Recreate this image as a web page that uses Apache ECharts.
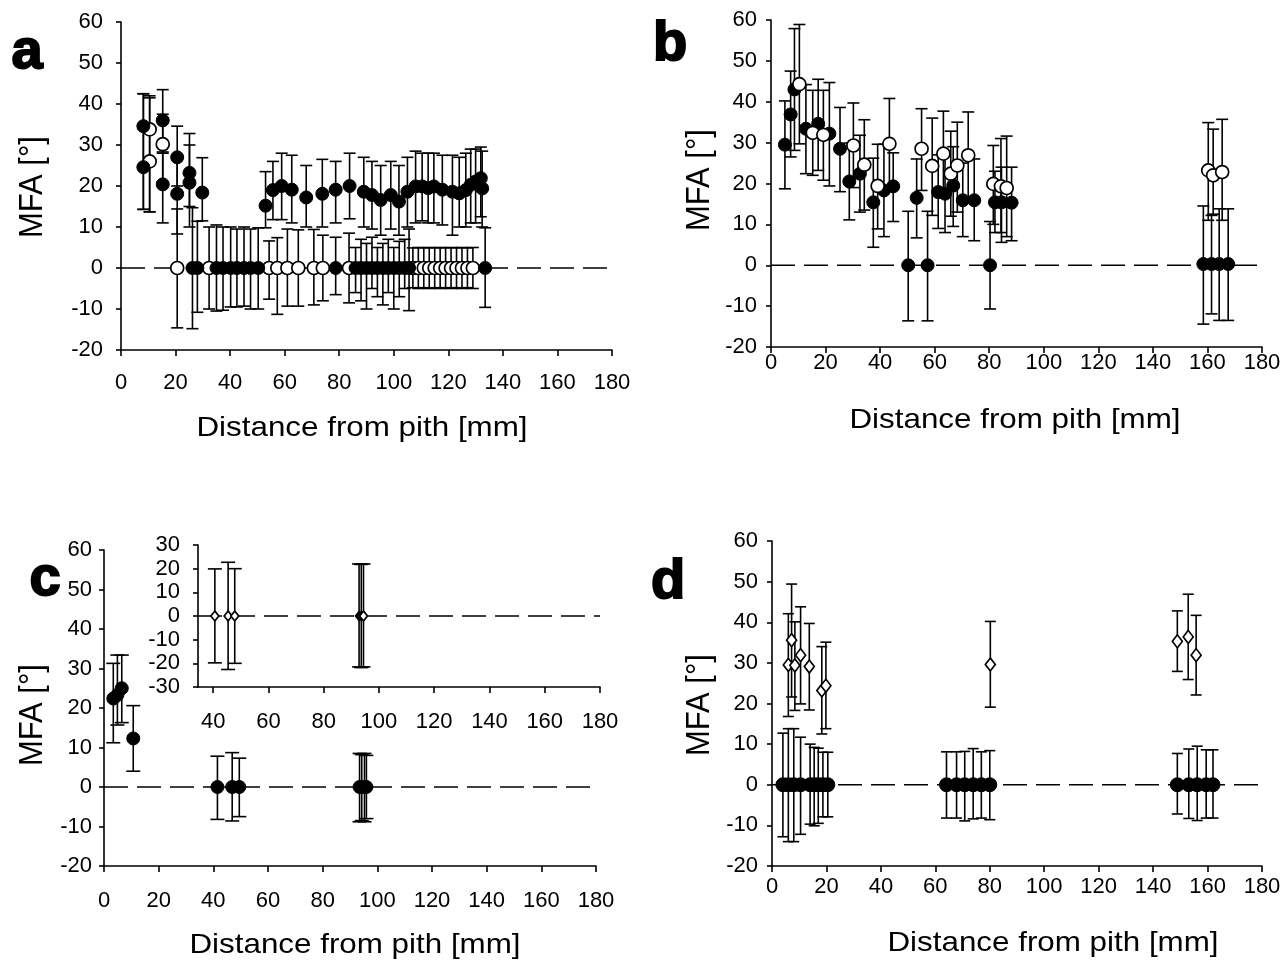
<!DOCTYPE html>
<html><head><meta charset="utf-8">
<script src="https://cdn.jsdelivr.net/npm/echarts@6/dist/echarts.min.js"></script>
<style>html,body{margin:0;padding:0;background:#fff}#c{width:1286px;height:965px}</style>
</head><body><div id="c"></div><script>
// ---------- Panel a ----------
const aFillX = [8.2, 8.2, 15.3, 15.3, 20.6, 20.6, 25.1, 25.1, 29.8, 53, 55.7, 58.9, 62.6, 67.9, 73.8, 78.7, 83.8, 89, 92, 95.2, 98.9, 101.9, 105, 108, 110.4, 112.6, 114.7, 117.8, 121.5, 124, 126.4, 128.2, 130, 131.9, 132.4,
  26.2, 28, 35, 37.4, 40.2, 42.5, 45.1, 47.5, 50.3, 78.7, 86, 88, 90, 92, 94, 96, 98, 100, 102, 104, 105.6, 133.5];
const aFillY = [34.6, 24.6, 36, 20.4, 27, 18.1, 23.2, 20.8, 18.4, 15.2, 19, 20, 19.1, 17.2, 18.1, 19.1, 20, 18.6, 17.8, 16.6, 17.8, 16.2, 18.6, 19.9, 19.9, 19.5, 19.9, 19.1, 18.6, 18.2, 19, 20.3, 21.1, 21.9, 19.4,
  0, 0, 0, 0, 0, 0, 0, 0, 0, 0, 0, 0, 0, 0, 0, 0, 0, 0, 0, 0, 0, 0];
const aFillLo = [14.3, 14.3, 28.3, 11, 20, 8.3, 15, 10, 11.5, 9.8, 11.8, 11.8, 11, 10, 10, 11, 12, 10, 9.5, 8, 9.5, 8, 10, 11, 11.5, 11, 11, 10.5, 8, 10, 10, 11, 11, 12.5, 10,
  -14.8, -10.8, -10.5, -10.3, -9.5, -9.5, -9.3, -10, -10, -6.5, -6, -8, -10, -5, -7, -9, -6, -10, -7, -5, -10.4, -9.6];
const aFillHi = [42.5, 42.5, 43.5, 28, 34.6, 27, 32.8, 30, 26.9, 23.5, 26, 28, 27.5, 25, 26.5, 26, 28, 27, 26, 25, 26, 25, 27, 28.5, 28, 28, 28, 27.5, 27.5, 27, 28, 29, 29, 29.5, 28.5,
  14.7, 11.4, 10.5, 10, 10, 9.5, 10, 9.5, 9.8, 7.5, 5, 7, 6, 7.5, 5, 6, 7, 5, 6.5, 7, 9.5, 9.8];
const aOpenX = [10.5, 10.5, 15.3, 20.6, 32.3, 54.3, 57.3, 61, 65, 70.7, 74, 83.6, 107, 109, 111, 113, 115, 117, 119, 121, 123, 125, 127, 129];
const aOpenY = [33.8, 26, 30.2, 0, 0, 0, 0, 0, 0, 0, 0, 0, 0, 0, 0, 0, 0, 0, 0, 0, 0, 0, 0, 0];
const aOpenLo = [13.7, 13.7, 21, -14.6, -10, -7.6, -11.3, -9.3, -9.3, -9, -8, -8.5, -4.8, -5, -4.8, -5, -4.8, -5, -4.8, -5, -4.8, -5, -4.8, -5];
const aOpenHi = [42, 41.5, 37.5, 14.4, 10, 6.6, 7.4, 9.5, 9.3, 9.4, 8, 8.5, 4.9, 5, 4.9, 5, 4.9, 5, 4.9, 5, 4.9, 5, 4.9, 5];

// ---------- Panel b ----------
const bFillX = [5.1, 7.2, 8.6, 12.8, 17.3, 21.4, 25.3, 28.7, 32.6, 37.5, 41.4, 44.8, 50.3, 53.4, 57.4, 61.3, 63.8, 66.8, 70.3, 74.5, 80.3, 82.1, 84.5, 88.2, 158.5, 161.5, 164.3, 167.6];
const bFillY = [29.5, 36.9, 43, 33.4, 34.6, 32.2, 28.5, 20.5, 22.4, 15.4, 18.3, 19.3, 0, 16.5, 0, 17.9, 17.5, 19.5, 15.9, 15.9, 0, 15.4, 15.4, 15.3, 0.3, 0.3, 0.3, 0.3];
const bFillLo = [18.7, 26.5, 28.1, 22.4, 23.2, 19.4, 18, 11.1, 13, 4.4, 7, 10.7, -13.6, 6.7, -13.6, 9, 8, 9.5, 7, 6, -10.7, 8, 5.6, 6, -14.4, -11.9, -13.5, -13.5];
const bFillHi = [40.2, 47.5, 57.9, 44.2, 45.5, 44.7, 38.6, 29.9, 31.8, 26.2, 29.6, 27.5, 13.2, 26, 13.2, 27, 27, 29, 25, 26, 10.7, 23, 24, 24, 14.5, 12.2, 13.8, 13.8];
const bOpenX = [10.4, 15.3, 19.2, 30.2, 34.2, 39.1, 43.4, 55.2, 59.1, 63.2, 65.9, 68.3, 72.3, 81.5, 84.3, 86.4, 160.3, 162.1, 165.4];
const bOpenY = [44.3, 32.4, 31.9, 29.3, 24.6, 19.4, 29.7, 28.5, 24.3, 27.3, 22.4, 24.4, 26.9, 19.9, 19.3, 18.9, 23.2, 22, 22.8];
const bOpenLo = [29.7, 22, 20.8, 19, 13.5, 8.9, 18.5, 18.3, 12.2, 17, 12, 13, 16, 10, 8, 7, 11, 12.5, 11];
const bOpenHi = [58.9, 42.8, 42.8, 39.7, 35.6, 29.6, 40.8, 38.3, 36, 37.7, 32.8, 35, 37.5, 29.3, 31, 31.6, 34.9, 33.3, 35.7];

// ---------- Panel c ----------
const cFillX = [3.4, 4.9, 6.5, 10.7, 41.5, 46.9, 49.5, 93.5, 94.3, 95.3, 96];
const cFillY = [22.4, 23.3, 25, 12.3, 0, 0, 0, 0, 0, 0, 0];
const cFillLo = [11.2, 15.7, 16.3, 4, -8.2, -8.6, -7.5, -8.8, -8.5, -8.8, -8];
const cFillHi = [31.3, 33.4, 33.4, 20.6, 7.8, 8.7, 7.3, 8.5, 8.2, 8.5, 8];
// inset of c
const insOpenX = [40.6, 45.4, 47.8, 94.4];
const insOpenY = [0, 0, 0, 0];
const insOpenLo = [-19.8, -22.6, -20, -21.5];
const insOpenHi = [19.9, 22.7, 20, 22];
const insFillX = [92.8, 93.6];
const insFillY = [0, 0];
const insFillLo = [-21.5, -21.8];
const insFillHi = [22, 21.8];

// ---------- Panel d ----------
const dOpenX = [6, 7.2, 8.4, 10.5, 13.7, 18.3, 19.8, 80.2, 148.9, 152.9, 155.8];
const dOpenY = [29.5, 35.6, 29.4, 31.9, 29.1, 23.2, 24.4, 29.6, 35.3, 36.4, 31.9];
const dOpenLo = [16.8, 21.6, 18.3, 19.9, 18.4, 12.5, 13.8, 19.1, 27.9, 25.9, 22.1];
const dOpenHi = [42.1, 49.4, 40.1, 43.8, 39.7, 34, 35.1, 40.2, 42.8, 46.9, 41.7];
const dFillX = [4, 6, 8, 10.5, 14, 15.5, 17, 18.7, 20.5, 64.1, 67.8, 70.8, 73.9, 76.9, 80, 148.9, 153.1, 156.2, 159.5, 162];
const dFillY = [0, 0, 0, 0, 0, 0, 0, 0, 0, 0, 0, 0, 0, 0, 0, 0, 0, 0, 0, 0];
const dFillLo = [-12.8, -14, -14, -12.2, -9.7, -10.1, -9.5, -7.9, -7.9, -8.2, -8.2, -8.9, -8.4, -8.2, -8.6, -7.2, -8.3, -8.8, -8.2, -8.2];
const dFillHi = [12.7, 13.8, 13.8, 11.7, 10, 9.2, 9, 8, 8, 8.1, 8.1, 8.2, 8.9, 8.1, 8.4, 7.7, 8.8, 9.5, 8.6, 8.6];

const insetXTicks = [40, 60, 80, 100, 120, 140, 160, 180];

// ---------- builders ----------
const FONT = '"Liberation Sans", Arial, sans-serif';
const BLACK = '#000';
const LBL = 22;

function lbl(margin) {
  return { color: BLACK, fontSize: LBL, fontFamily: FONT, margin: margin };
}
function xAx(gi, min, max, margin, opts) {
  const ax = {
    type: 'value', gridIndex: gi, min: min, max: max, interval: 20,
    axisLine: { show: true, onZero: false, lineStyle: { color: BLACK, width: 1.6 } },
    axisTick: { show: true, length: 6, lineStyle: { color: BLACK, width: 1.6 } },
    splitLine: { show: false },
    axisLabel: lbl(margin)
  };
  return Object.assign(ax, opts || {});
}
function yAx(gi, min, max, margin) {
  return {
    type: 'value', gridIndex: gi, min: min, max: max, interval: 10,
    axisLine: { show: true, onZero: false, lineStyle: { color: BLACK, width: 1.6 } },
    axisTick: { show: true, length: 5, lineStyle: { color: BLACK, width: 1.6 } },
    splitLine: { show: false },
    axisLabel: lbl(margin)
  };
}
function errBars(ai, xs, los, his, cap) {
  return {
    type: 'custom', xAxisIndex: ai, yAxisIndex: ai, silent: true, z: 1,
    data: xs.map((x, i) => [x, los[i], his[i]]),
    encode: { x: 0, y: [1, 2] },
    renderItem: function (params, api) {
      const lo = api.coord([api.value(0), api.value(1)]);
      const hi = api.coord([api.value(0), api.value(2)]);
      const h = cap / 2;
      const st = { stroke: BLACK, lineWidth: 1.6 };
      return { type: 'group', children: [
        { type: 'line', shape: { x1: hi[0], y1: hi[1], x2: lo[0], y2: lo[1] }, style: st },
        { type: 'line', shape: { x1: hi[0] - h, y1: hi[1], x2: hi[0] + h, y2: hi[1] }, style: st },
        { type: 'line', shape: { x1: lo[0] - h, y1: lo[1], x2: lo[0] + h, y2: lo[1] }, style: st }
      ] };
    }
  };
}
function pts(ai, xs, ys, symbol, size, filled, z) {
  return {
    type: 'scatter', xAxisIndex: ai, yAxisIndex: ai, silent: true, z: z,
    symbol: symbol, symbolSize: size,
    data: xs.map((x, i) => [x, ys[i]]),
    itemStyle: filled
      ? { color: BLACK, borderColor: BLACK, borderWidth: 1, opacity: 1 }
      : { color: '#fff', borderColor: BLACK, borderWidth: 1.7, opacity: 1 }
  };
}
function zeroLine(ai, from, to) {
  return {
    type: 'line', xAxisIndex: ai, yAxisIndex: ai, silent: true, z: 0, symbol: 'none',
    data: [[from, 0], [to, 0]],
    lineStyle: { color: BLACK, width: 1.3, type: [24, 9] }
  };
}
function txt(x, y, s, font, opts) {
  return Object.assign({
    type: 'text', x: x, y: y, silent: true,
    style: { text: s, fill: BLACK, font: font, align: 'center', verticalAlign: 'middle' }
  }, opts || {});
}
function letter(x, y, s) {
  return {
    type: 'text', x: x, y: y, silent: true,
    style: { text: s, fill: BLACK, stroke: BLACK, lineWidth: 2, font: 'bold 56px ' + FONT, align: 'center', verticalAlign: 'middle' }
  };
}

const TITLE = '28px ' + FONT;
const YTITLE = '31px ' + FONT;

const option = {
  animation: false,
  backgroundColor: '#fff',
  grid: [
    { left: 121, top: 22, width: 491, height: 328 },
    { left: 771, top: 20, width: 491, height: 327 },
    { left: 104, top: 550, width: 492, height: 316 },
    { left: 198, top: 545, width: 402, height: 142 },
    { left: 772, top: 541, width: 490, height: 325 }
  ],
  xAxis: [
    xAx(0, 0, 180, 22), xAx(1, 0, 180, 5), xAx(2, 0, 180, 24),
    xAx(3, 34.5, 180, 24, {
      interval: null,
      axisLabel: Object.assign(lbl(24), { customValues: insetXTicks }),
      axisTick: { show: true, length: 6, lineStyle: { color: BLACK, width: 1.6 }, customValues: insetXTicks }
    }),
    xAx(4, 0, 180, 10)
  ],
  yAxis: [
    yAx(0, -20, 60, 18),
    yAx(1, -20, 60, 14),
    yAx(2, -20, 60, 12),
    yAx(3, -30, 30, 18),
    yAx(4, -20, 60, 14)
  ],
  series: [
    zeroLine(0, 0, 180), zeroLine(1, 0, 180), zeroLine(2, 0, 180), zeroLine(3, 34.5, 180), zeroLine(4, 0, 180),
    errBars(0, aOpenX, aOpenLo, aOpenHi, 12),
    errBars(0, aFillX, aFillLo, aFillHi, 12),
    pts(0, aOpenX, aOpenY, 'circle', 13, false, 3),
    pts(0, aFillX, aFillY, 'circle', 13, true, 4),
    errBars(1, bFillX, bFillLo, bFillHi, 12),
    errBars(1, bOpenX, bOpenLo, bOpenHi, 12),
    pts(1, bFillX, bFillY, 'circle', 13, true, 3),
    pts(1, bOpenX, bOpenY, 'circle', 13, false, 4),
    errBars(2, cFillX, cFillLo, cFillHi, 14),
    pts(2, cFillX, cFillY, 'circle', 13, true, 3),
    errBars(3, insFillX, insFillLo, insFillHi, 14),
    errBars(3, insOpenX, insOpenLo, insOpenHi, 14),
    pts(3, insFillX, insFillY, 'diamond', [8, 10], true, 3),
    pts(3, insOpenX, insOpenY, 'diamond', [8, 10], false, 4),
    errBars(4, dFillX, dFillLo, dFillHi, 11),
    errBars(4, dOpenX, dOpenLo, dOpenHi, 11),
    pts(4, dFillX, dFillY, 'circle', 14, true, 3),
    pts(4, dOpenX, dOpenY, 'diamond', [10, 13], false, 4)
  ],
  graphic: [
    letter(27, 53, 'a'),
    letter(670, 45, 'b'),
    letter(45, 580, 'c'),
    letter(668, 583, 'd'),
    txt(362, 428, 'Distance from pith [mm]', TITLE, { scaleX: 1.12 }),
    txt(1015, 420, 'Distance from pith [mm]', TITLE, { scaleX: 1.12 }),
    txt(355, 945, 'Distance from pith [mm]', TITLE, { scaleX: 1.12 }),
    txt(1053, 943, 'Distance from pith [mm]', TITLE, { scaleX: 1.12 }),
    txt(33, 187, 'MFA [°]', YTITLE, { rotation: Math.PI / 2, scaleY: 1.1 }),
    txt(700, 180, 'MFA [°]', YTITLE, { rotation: Math.PI / 2, scaleY: 1.1 }),
    txt(33, 715, 'MFA [°]', YTITLE, { rotation: Math.PI / 2, scaleY: 1.1 }),
    txt(700, 705, 'MFA [°]', YTITLE, { rotation: Math.PI / 2, scaleY: 1.1 })
  ]
};
const chart = echarts.init(document.getElementById('c'), null, { renderer: 'canvas' });
chart.setOption(option);
</script></body></html>
